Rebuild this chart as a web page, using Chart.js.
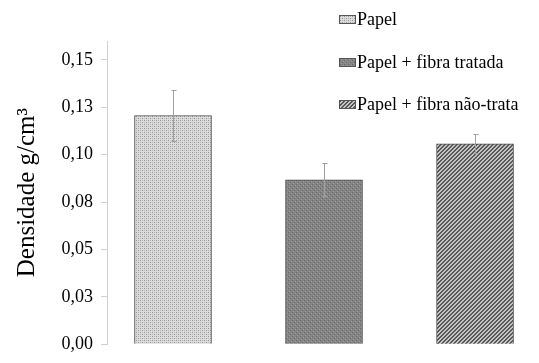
<!DOCTYPE html>
<html>
<head>
<meta charset="utf-8">
<script src="https://cdn.jsdelivr.net/npm/chart.js@4/dist/chart.umd.min.js"></script>
<style>
html,body{margin:0;padding:0;background:#fff;}
#wrap{width:539px;height:363px;}
</style>
</head>
<body>
<div id="wrap"><canvas id="c" width="539" height="363"></canvas></div>
<script>
// ---- data ----
const categories = ['Papel', 'Papel + fibra tratada', 'Papel + fibra não-trata'];
const densidade = [0.1207, 0.0867, 0.1058];
const erro = [0.0135, 0.0087, 0.0050];
const tickValues = [0, 0.025, 0.05, 0.075, 0.10, 0.125, 0.15];
const tickLabels = ['0,00', '0,03', '0,05', '0,08', '0,10', '0,13', '0,15'];
const yTitle = 'Densidade g/cm³';

// ---- patterns ----
function makePattern(kind) {
  const c = document.createElement('canvas');
  c.width = 4; c.height = 4;
  const g = c.getContext('2d');
  const px = (x, y, col) => { g.fillStyle = col; g.fillRect(x, y, 1, 1); };
  if (kind === 0) {
    g.fillStyle = '#dcdcdc'; g.fillRect(0, 0, 4, 4);
    px(0, 0, '#929292'); px(2, 2, '#929292');
    px(2, 0, '#b8b8b8'); px(0, 2, '#b8b8b8');
  } else if (kind === 1) {
    g.fillStyle = '#858585'; g.fillRect(0, 0, 4, 4);
    px(0, 0, '#686868'); px(2, 2, '#686868');
    px(1, 3, '#9a9a9a'); px(3, 1, '#9a9a9a');
  } else {
    for (let y = 0; y < 4; y++) for (let x = 0; x < 4; x++) {
      px(x, y, ((x + y) % 4) < 2 ? '#585858' : '#c4c4c4');
    }
  }
  return g.createPattern(c, 'repeat');
}
const fills = [makePattern(0), makePattern(1), makePattern(2)];
const FONT = "'Liberation Serif', 'Times New Roman', serif";

const errorBars = {
  id: 'errorBars',
  afterDatasetsDraw(chart) {
    const xs = chart.scales.x, ys = chart.scales.y, ctx = chart.ctx;
    ctx.save();
    ctx.strokeStyle = '#a0a0a0';
    ctx.lineWidth = 1;
    densidade.forEach((v, i) => {
      const x = Math.round(xs.getPixelForValue(i)) + 0.5;
      const t = Math.round(ys.getPixelForValue(v + erro[i])) + 0.5;
      const b = Math.round(ys.getPixelForValue(v - erro[i])) + 0.5;
      ctx.beginPath();
      ctx.moveTo(x, t); ctx.lineTo(x, b);
      ctx.moveTo(x - 2, t); ctx.lineTo(x + 3, t);
      ctx.moveTo(x - 2, b); ctx.lineTo(x + 3, b);
      ctx.stroke();
    });
    ctx.restore();
  }
};

const legendPlugin = {
  id: 'sideLegend',
  afterDraw(chart) {
    const ctx = chart.ctx;
    ctx.save();
    ctx.font = '18px ' + FONT;
    ctx.textBaseline = 'middle';
    categories.forEach((lab, i) => {
      const cy = 19.5 + i * 42.5;
      ctx.fillStyle = fills[i];
      ctx.fillRect(339, Math.round(cy - 4.5), 17, 9);
      ctx.strokeStyle = '#555';
      ctx.lineWidth = 1;
      ctx.strokeRect(339.5, Math.round(cy - 4.5) + 0.5, 16, 8);
      ctx.fillStyle = '#000';
      ctx.fillText(lab, 357, cy + 1);
    });
    ctx.restore();
  }
};

new Chart(document.getElementById('c'), {
  type: 'bar',
  data: {
    datasets: [{
      label: 'Densidade',
      data: densidade.map((v, i) => ({ x: i, y: v })),
      backgroundColor: fills,
      borderColor: '#4d4d4d',
      borderWidth: 1,
      barThickness: 77
    }]
  },
  options: {
    responsive: false,
    animation: false,
    events: [],
    layout: { padding: { top: 41, bottom: 9, right: 9, left: 0 } },
    plugins: { legend: { display: false }, tooltip: { enabled: false } },
    scales: {
      x: {
        type: 'linear',
        display: false,
        offset: false,
        min: -0.437,
        max: 2.364
      },
      y: {
        min: 0,
        max: 0.16,
        afterBuildTicks(s) { s.ticks = tickValues.map(v => ({ value: v })); },
        afterFit(s) { s.width = 107; },
        ticks: {
          callback(v, i) { return tickLabels[i]; },
          font: { family: FONT, size: 18 },
          color: '#000',
          padding: 8
        },
        grid: {
          drawOnChartArea: false,
          drawTicks: true,
          tickLength: 6,
          color: '#d0d0d0'
        },
        border: { display: true, color: '#d0d0d0' },
        title: {
          display: true,
          text: yTitle,
          font: { family: FONT, size: 25 },
          color: '#000',
          padding: { top: 12, bottom: 0 }
        }
      }
    }
  },
  plugins: [errorBars, legendPlugin]
});
</script>
</body>
</html>
